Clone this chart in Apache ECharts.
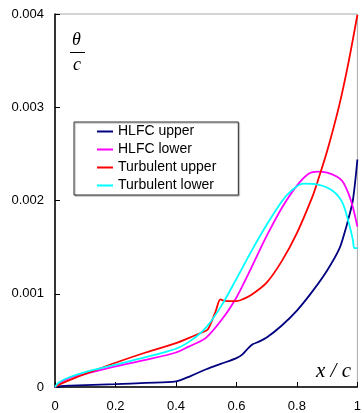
<!DOCTYPE html>
<html>
<head>
<meta charset="utf-8">
<script src="https://cdn.jsdelivr.net/npm/echarts@6/dist/echarts.min.js"></script>
<style>
  html, body { margin: 0; padding: 0; background: #fff; }
  #chart { width: 364px; height: 413px; }
</style>
</head>
<body>
<div id="chart"></div>
<script>
// x / c positions and theta / c values
const hlfcUpperX = [0, 0.02, 0.05, 0.1, 0.2, 0.3, 0.4, 0.45, 0.5, 0.55, 0.6, 0.62, 0.64, 0.655, 0.67, 0.7, 0.75, 0.8, 0.85, 0.9, 0.94, 0.96, 0.97, 0.985, 1.0];
const hlfcUpperY = [0, 0.00001, 0.000015, 0.00002, 0.00003, 0.000045, 0.00006, 0.00012, 0.00019, 0.00025, 0.00031, 0.00035, 0.00042, 0.00046, 0.00048, 0.00053, 0.00066, 0.00082, 0.00102, 0.00125, 0.00148, 0.00168, 0.0018, 0.002, 0.00244];

const hlfcLowerX = [0, 0.01, 0.03, 0.06, 0.1, 0.2, 0.3, 0.4, 0.44, 0.5, 0.56, 0.6, 0.63, 0.67, 0.7, 0.75, 0.8, 0.84, 0.87, 0.9, 0.93, 0.95, 0.97, 0.985, 1.0];
const hlfcLowerY = [0, 0.00003, 0.00007, 0.00011, 0.00014, 0.00022, 0.00029, 0.00037, 0.00043, 0.00053, 0.00076, 0.00096, 0.00115, 0.00142, 0.00162, 0.00192, 0.00216, 0.00229, 0.00231, 0.0023, 0.00226, 0.00221, 0.00208, 0.00193, 0.00172];

const turbUpperX = [0, 0.01, 0.03, 0.06, 0.1, 0.2, 0.3, 0.4, 0.46, 0.49, 0.506, 0.53, 0.547, 0.555, 0.58, 0.6, 0.62, 0.65, 0.7, 0.75, 0.8, 0.85, 0.87, 0.9, 0.94, 0.97, 1.0];
const turbUpperY = [0, 0.00002, 0.00005, 0.00009, 0.00014, 0.00026, 0.00037, 0.00047, 0.00055, 0.00059, 0.00062, 0.0008, 0.00094, 0.00093, 0.00092, 0.00092, 0.00094, 0.00099, 0.00112, 0.00135, 0.00165, 0.00203, 0.00222, 0.00253, 0.00302, 0.00347, 0.00399];

const turbLowerX = [0, 0.01, 0.03, 0.06, 0.1, 0.2, 0.3, 0.4, 0.45, 0.5, 0.55, 0.6, 0.65, 0.7, 0.75, 0.78, 0.82, 0.87, 0.92, 0.95, 0.97, 0.985, 0.99, 1.0];
const turbLowerY = [0, 0.00004, 0.00008, 0.00012, 0.00016, 0.00024, 0.00032, 0.00041, 0.0005, 0.00064, 0.00087, 0.00116, 0.00146, 0.00174, 0.00199, 0.0021, 0.00218, 0.00217, 0.0021, 0.00198, 0.00178, 0.00158, 0.00149, 0.00149];

const seriesNames = ['HLFC upper', 'HLFC lower', 'Turbulent upper', 'Turbulent lower'];
const seriesColors = ['#000080', '#ff00ff', '#ff0000', '#00ffff'];

const pairs = (xs, ys) => xs.map((x, i) => [x, ys[i]]);
const allData = [
  pairs(hlfcUpperX, hlfcUpperY),
  pairs(hlfcLowerX, hlfcLowerY),
  pairs(turbUpperX, turbUpperY),
  pairs(turbLowerX, turbLowerY)
];

const labelFont = 'Liberation Sans, Arial, sans-serif';
const mathFont = 'Liberation Serif, Times New Roman, serif';

const chart = echarts.init(document.getElementById('chart'), null, { renderer: 'canvas' });

const option = {
  animation: false,
  backgroundColor: '#fff',
  grid: {
    left: 55,
    right: 2,
    top: 14,
    bottom: 25,
    show: true,
    borderColor: '#a8a8a8',
    borderWidth: 1
  },
  legend: {
    left: 74,
    top: 122,
    orient: 'vertical',
    data: seriesNames,
    icon: 'rect',
    itemWidth: 16,
    itemHeight: 2,
    itemGap: 3,
    padding: [2, 22, 2, 23],
    backgroundColor: '#fff',
    borderColor: '#333',
    borderWidth: 1,
    shadowColor: 'rgba(0,0,0,0.35)',
    shadowOffsetX: 1,
    shadowOffsetY: 1,
    shadowBlur: 1,
    textStyle: {
      fontFamily: labelFont,
      fontSize: 14,
      lineHeight: 15,
      color: '#000',
      padding: [0, 0, 0, 0]
    }
  },
  xAxis: {
    type: 'value',
    min: 0,
    max: 1,
    interval: 0.2,
    axisLine: { show: true, lineStyle: { color: '#000', width: 1.5 } },
    axisTick: { show: true, inside: true, length: 5, lineStyle: { color: '#000', width: 1 } },
    axisLabel: { fontFamily: labelFont, fontSize: 13, color: '#000', margin: 13 },
    splitLine: { show: false }
  },
  yAxis: {
    type: 'value',
    min: 0,
    max: 0.004,
    interval: 0.001,
    axisLine: { show: true, lineStyle: { color: '#000', width: 1.5 } },
    axisTick: { show: true, inside: true, length: 5, lineStyle: { color: '#000', width: 1 } },
    axisLabel: { fontFamily: labelFont, fontSize: 13, color: '#000', margin: 11 },
    splitLine: { show: false }
  },
  series: seriesNames.map((name, i) => ({
    name,
    type: 'line',
    data: allData[i],
    showSymbol: false,
    smooth: 0.3,
    lineStyle: { color: seriesColors[i], width: 1.8 },
    itemStyle: { color: seriesColors[i] },
    emphasis: { disabled: true }
  })),
  graphic: [
    {
      type: 'text',
      left: 72,
      top: 31,
      style: { text: 'θ', font: 'italic 18px ' + mathFont, fill: '#000' }
    },
    {
      type: 'line',
      shape: { x1: 70, y1: 52.5, x2: 85, y2: 52.5 },
      style: { stroke: '#000', lineWidth: 1 }
    },
    {
      type: 'text',
      left: 73,
      top: 56,
      style: { text: 'c', font: 'italic 18px ' + mathFont, fill: '#000' }
    },
    {
      type: 'text',
      left: 316,
      top: 361,
      style: { text: 'x / c', font: 'italic 21px ' + mathFont, fill: '#000' }
    }
  ]
};

chart.setOption(option);
</script>
</body>
</html>
